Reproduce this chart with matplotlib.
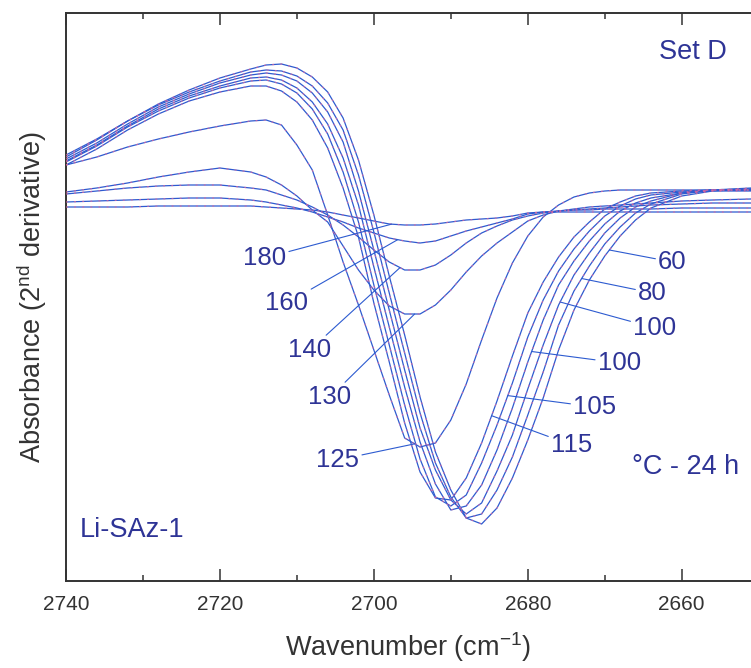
import numpy as np
import matplotlib
matplotlib.use('Agg')
import matplotlib.pyplot as plt

plt.rcParams['font.family'] = ['Liberation Sans', 'DejaVu Sans']
plt.rcParams['mathtext.fontset'] = 'custom'
plt.rcParams['mathtext.rm'] = 'Liberation Sans'
plt.rcParams['mathtext.default'] = 'regular'

# Wavenumber grid (cm-1), shared by all spectra.
wavenumber = [2740, 2736, 2732, 2728, 2724, 2720, 2716, 2714, 2712, 2710, 2708, 2706,
              2704, 2702, 2700, 2698, 2696, 2694, 2692, 2690, 2688, 2686, 2684, 2682,
              2680, 2678, 2676, 2674, 2672, 2670, 2668, 2666, 2664, 2660, 2656, 2651]

# 2nd derivative absorbance (arbitrary units), one spectrum per heating temperature.
d2_060 = [53, 70, 89, 106, 120, 132, 141, 145, 146, 142, 133, 118, 92, 50, -5, -66, -125, -187,
          -242, -280, -308, -314, -298, -268, -230, -188, -140, -100, -70, -46, -26, -10, 2, 14, 19, 21]
d2_080 = [55, 71, 89, 105, 118, 129, 138, 140, 139, 134, 124, 107, 80, 35, -22, -83, -143, -203,
          -253, -287, -308, -304, -280, -247, -205, -162, -115, -81, -56, -34, -17, -3, 6, 16, 20, 20]
d2_100a = [51, 67, 86, 103, 116, 127, 135, 137, 135, 129, 117, 98, 68, 19, -40, -100, -160, -218,
           -260, -290, -304, -293, -261, -225, -179, -135, -95, -65, -43, -23, -8, 3, 9, 17, 20, 22]
d2_100b = [49, 65, 84, 101, 114, 124, 132, 133, 130, 122, 108, 86, 52, 5, -57, -117, -177, -232,
           -274, -300, -296, -275, -240, -198, -152, -110, -75, -51, -31, -14, -1, 7, 12, 17, 19, 19]
d2_105 = [48, 64, 83, 99, 112, 122, 129, 130, 126, 117, 101, 76, 38, -12, -75, -135, -195, -249,
          -287, -296, -285, -253, -215, -173, -127, -90, -61, -39, -21, -6, 4, 11, 15, 18, 20, 21]
d2_115 = [45, 61, 80, 96, 109, 118, 124, 124, 119, 108, 90, 62, 22, -27, -93, -152, -213, -262,
          -288, -290, -268, -233, -191, -146, -103, -72, -47, -27, -12, 1, 8, 14, 17, 19, 20, 20]
d2_125 = [45, 53, 63, 71, 78, 84, 89, 90, 85, 65, 40, -5, -52, -95, -140, -185, -228, -237,
          -233, -210, -174, -130, -88, -53, -26, -7, 5, 13, 17, 19, 20, 20, 20, 20, 20, 20]
d2_130 = [18, 22, 27, 33, 38, 42, 38, 33, 25, 14, 0, -12, -36, -60, -80, -96, -104, -104,
          -95, -80, -62, -46, -33, -22, -11, -5, -1, 1, 3, 4, 5, 6, 7, 9, 10, 11]
d2_140 = [16, 19, 22, 24, 25, 25, 22, 20, 15, 10, 3, -5, -15, -27, -40, -52, -60, -60,
          -55, -45, -33, -23, -16, -10, -6, -3, -1, 0, 1, 2, 3, 4, 5, 6, 7, 7]
d2_160 = [8, 9, 10, 11, 12, 12, 10, 8, 5, 2, -2, -7, -12, -18, -23, -28, -31, -33,
          -31, -26, -21, -17, -13, -9, -4, -2, -1, 0, 0, 1, 1, 1, 1, 2, 2, 2]
d2_180 = [3, 3, 3, 4, 4, 4, 4, 3, 2, 1, 0, -2, -5, -8, -11, -14, -15, -15,
          -14, -12, -10, -9, -8, -6, -3, -2, -2, -2, -2, -2, -2, -2, -2, -2, -2, -2]

temperatures = ['60', '80', '100', '100', '105', '115', '125', '130', '140', '160', '180']
spectra = [d2_060, d2_080, d2_100a, d2_100b, d2_105, d2_115,
           d2_125, d2_130, d2_140, d2_160, d2_180]

# Where each leader line touches its spectrum (cm-1) and where its label sits (data coords).
leader_wn = [2669.4, 2673.0, 2675.8, 2679.5, 2682.6, 2684.7, 2694.7, 2694.7, 2696.6, 2696.9, 2697.7]
label_pos = [(2661.2, -52), (2663.8, -83), (2663.5, -118), (2668.1, -153), (2671.3, -197),
             (2674.3, -235), (2704.7, -250), (2705.7, -187), (2708.3, -140), (2711.3, -93),
             (2714.2, -48)]

blue = '#2d5bd0'
pink = '#e0679f'
text_blue = '#2e3496'
dark = '#333333'

fig = plt.figure(figsize=(7.51, 6.68), dpi=100)
ax = fig.add_axes([66 / 751, 1 - 581 / 668, 685 / 751, 568 / 668])

wn = np.array(wavenumber)
for y in spectra:
    ax.plot(wn, y, color=blue, lw=0.9, zorder=2)
    ax.plot(wn, y, color=pink, lw=0.9, dashes=(1.5, 5), alpha=0.75, zorder=3)

# Temperature labels with thin leader lines.
for t, y, w, pos in zip(temperatures, spectra, leader_wn, label_pos):
    y_hit = np.interp(w, wn[::-1], np.array(y)[::-1])
    ax.annotate(t, xy=(w, y_hit), xytext=pos, ha='center', va='center',
                fontsize=18.5, color=text_blue,
                arrowprops=dict(arrowstyle='-', color=blue, lw=0.8, shrinkA=0, shrinkB=0))

ax.text(0.915, 0.931, 'Set D', transform=ax.transAxes, ha='center', va='center',
        fontsize=19.5, color=text_blue)
ax.text(0.904, 0.201, '°C - 24 h', transform=ax.transAxes, ha='center', va='center',
        fontsize=19.5, color=text_blue)
ax.text(0.096, 0.090, 'Li-SAz-1', transform=ax.transAxes, ha='center', va='center',
        fontsize=19.5, color=text_blue)

ax.set_xlim(2740, 2651)
ax.set_ylim(-371, 197)
ax.set_xticks([2740, 2720, 2700, 2680, 2660])
ax.set_xticks([2730, 2710, 2690, 2670], minor=True)
ax.set_yticks([])
ax.tick_params(axis='x', which='both', direction='in', top=True, bottom=True,
               width=1.1, color=dark, labelsize=15, labelcolor=dark, pad=10)
ax.tick_params(axis='x', which='major', length=8.5)
ax.tick_params(axis='x', which='minor', length=4.5)
for side in ['left', 'top', 'bottom']:
    ax.spines[side].set_linewidth(1.4)
    ax.spines[side].set_color(dark)
ax.spines['right'].set_visible(False)

ax.set_xlabel('Wavenumber (cm$^{-1}$)', fontsize=19.5, color=dark, labelpad=12)
ax.set_ylabel('Absorbance (2$^{nd}$ derivative)', fontsize=19.5, color=dark, labelpad=12)

plt.savefig('out.png', dpi=100)
